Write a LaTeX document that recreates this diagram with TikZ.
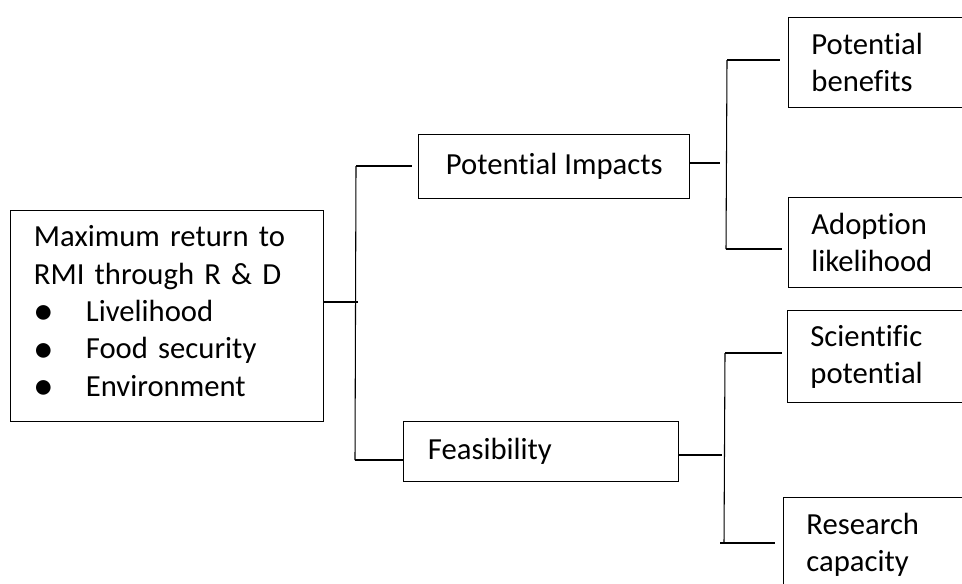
\documentclass[tikz,border=0pt]{standalone}
\usepackage{fontspec}
\setmainfont{Carlito}[Ligatures={NoCommon,NoRare}]
\usepackage{tikz}
\usetikzlibrary{positioning}

\newcommand{\itembul}{\makebox[39pt][l]{\raisebox{-2.5pt}{\fontsize{31}{0}\selectfont\textbullet}}}

\begin{document}
\begin{tikzpicture}[x=0.75pt, y=-0.75pt,
  font=\fontsize{23}{28}\selectfont,
  box/.style={draw, line width=1.1pt, anchor=north west, align=left, inner ysep=0pt},
  leaf/.style={box, minimum height=67.5pt, inner xsep=17pt, text width=131pt},
  wire/.style={line width=0.8pt}]
\clip (0,0) rectangle (962,583);
% goal box on the left
\node[box, minimum width=234.75pt, minimum height=158.25pt, inner xsep=17pt, text width=200pt] (goal) at (10,210)
  {Maximum return to\\ RMI through R \& D\\
   \itembul Livelihood\\
   \itembul Food security\\
   \itembul Environment\rule[-8pt]{0pt}{8pt}};
% middle level
\node[box, minimum width=203.25pt, minimum height=48pt, align=center] (impacts) at (418,134) {Potential Impacts};
\node[box, minimum width=206.25pt, minimum height=45pt, inner xsep=18pt, text width=170pt] (feas) at (403,421) {Feasibility};
% right level
\node[leaf] (benefits) at (788,17) {Potential\\ benefits};
\node[leaf] (adoption) at (788,197) {Adoption\\ likelihood};
\node[leaf, minimum height=69pt] (science) at (787,310) {Scientific\\ potential};
\node[leaf, minimum height=71pt] (capacity) at (783,497) {Research\\ capacity};

% bracket from goal
\coordinate (j1) at (358,302);
\coordinate (j1top) at (356,166);
\coordinate (j1bot) at (355,460);
\coordinate (j1end) at (412,166);
\draw[wire] (goal.east |- j1) -- (j1);
\draw[wire] (j1top) -- (j1bot);
\draw[wire] (j1top) -- (j1end);
\draw[wire] (j1bot) -- (feas.west |- j1bot);

% bracket from impacts
\coordinate (j2) at (720,163);
\coordinate (j2top) at (727,60);
\coordinate (j2bot) at (726,249);
\coordinate (j2a) at (780,60);
\coordinate (j2b) at (782,249);
\draw[wire] (impacts.east |- j2) -- (j2);
\draw[wire] (j2top) -- (j2bot);
\draw[wire] (j2top) -- (j2a);
\draw[wire] (j2bot) -- (j2b);

% bracket from feasibility
\coordinate (j3) at (722,455);
\coordinate (j3top) at (725,353);
\coordinate (j3bot) at (724,543);
\coordinate (j3a) at (782,353);
\coordinate (j3b) at (775,543);
\draw[wire] (feas.east |- j3) -- (j3);
\draw[wire] (j3top) -- (j3bot);
\draw[wire] (j3top) -- (j3a);
\draw[wire] ([xshift=-3pt]j3bot) -- (j3b);
\end{tikzpicture}
\end{document}
